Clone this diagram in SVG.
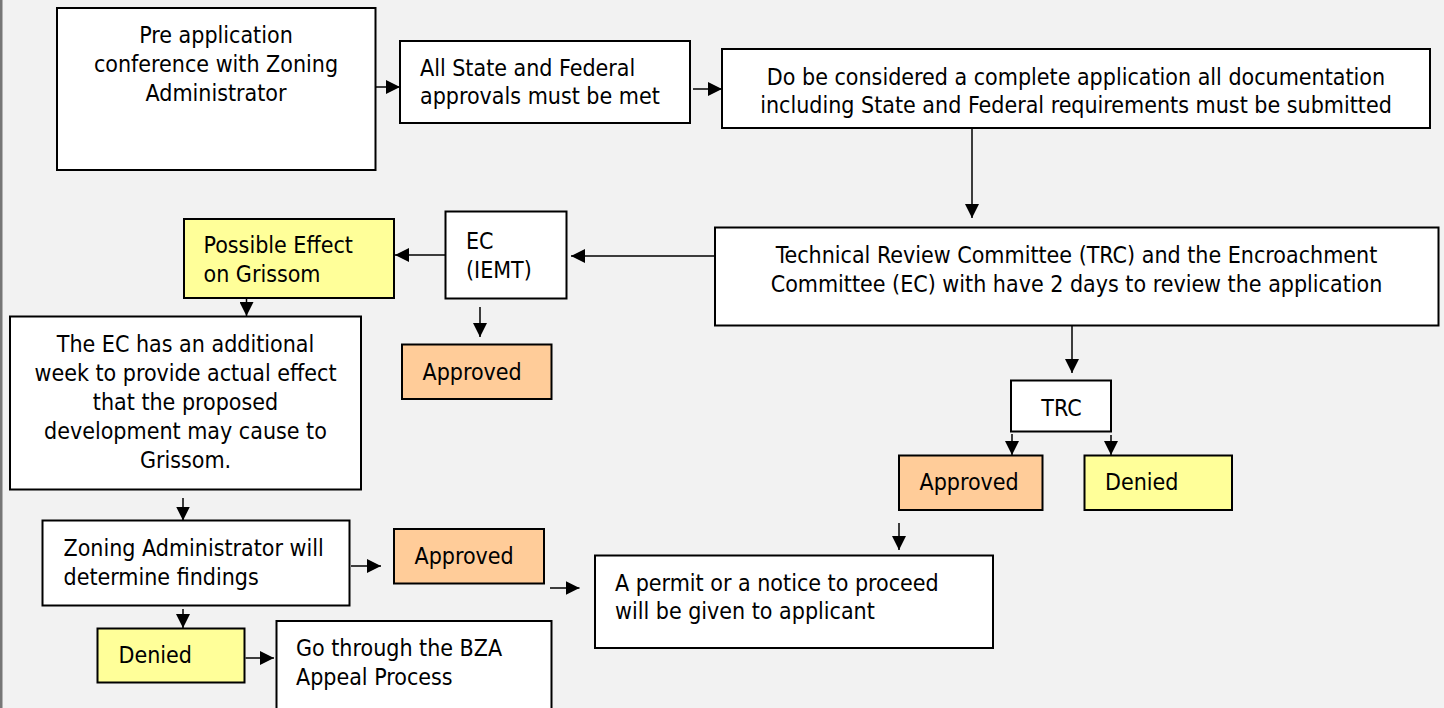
<svg xmlns="http://www.w3.org/2000/svg" width="1444" height="708" viewBox="0 0 1444 708">
<style>
.box{fill:#ffffff;stroke:#000000;stroke-width:2}
.yel{fill:#ffff99;stroke:#000000;stroke-width:2}
.org{fill:#ffcc99;stroke:#000000;stroke-width:2}
.t{font-family:"DejaVu Sans Condensed","DejaVu Sans",sans-serif;font-stretch:condensed;font-size:23px;fill:#000000}
.c{text-anchor:middle}
.ln{stroke:#000000;stroke-width:1.5;fill:none;marker-end:url(#ah)}
</style>
<defs>
<marker id="ah" markerUnits="userSpaceOnUse" markerWidth="14" markerHeight="14" refX="14" refY="7" orient="auto">
<path d="M0,0 L14,7 L0,14 z" fill="#000000"/>
</marker>
</defs>
<rect x="0" y="0" width="1444" height="708" fill="#f2f2f2"/>
<rect x="0" y="0" width="2.5" height="708" fill="#777777"/>
<g id="connectors">
<path class="ln" d="M376,87 H400"/>
<path class="ln" d="M693,89 H722"/>
<path class="ln" d="M972,128 V218"/>
<path class="ln" d="M715,256 H571"/>
<path class="ln" d="M445,255 H395"/>
<path class="ln" d="M480,307 V337"/>
<path class="ln" d="M246.5,298 V316"/>
<path class="ln" d="M183,498 V520.5"/>
<path class="ln" d="M351,566 H381"/>
<path class="ln" d="M550,588 H579.5"/>
<path class="ln" d="M183,609 V628"/>
<path class="ln" d="M245.5,658 H274"/>
<path class="ln" d="M1072,326 V373"/>
<path class="ln" d="M1012,434 V455"/>
<path class="ln" d="M1111,435 V455"/>
<path class="ln" d="M899,523 V550"/>
</g>
<g id="preapp">
<rect class="box" x="57" y="8" width="318.5" height="162"/>
<text class="t c" x="216" y="43"><tspan x="216">Pre application</tspan><tspan x="216" dy="29">conference with Zoning</tspan><tspan x="216" dy="29">Administrator</tspan></text>
</g>
<g id="allstate">
<rect class="box" x="400" y="41" width="290" height="82"/>
<text class="t" x="420" y="76"><tspan x="420">All State and Federal</tspan><tspan x="420" dy="27.5">approvals must be met</tspan></text>
</g>
<g id="complete">
<rect class="box" x="722" y="49" width="708" height="79"/>
<text class="t c" x="1076" y="84.5"><tspan x="1076">Do be considered a complete application all documentation</tspan><tspan x="1076" dy="28">including State and Federal requirements must be submitted</tspan></text>
</g>
<g id="trcec">
<rect class="box" x="715" y="227.5" width="723.5" height="98"/>
<text class="t c" x="1076.5" y="262.5"><tspan x="1076.5">Technical Review Committee (TRC) and the Encroachment</tspan><tspan x="1076.5" dy="29">Committee (EC) with have 2 days to review the application</tspan></text>
</g>
<g id="ec">
<rect class="box" x="445.5" y="211.5" width="121" height="87"/>
<text class="t" x="466" y="249"><tspan x="466">EC</tspan><tspan x="466" dy="29">(IEMT)</tspan></text>
</g>
<g id="possible">
<rect class="yel" x="184" y="219" width="210" height="79"/>
<text class="t" x="203.5" y="253"><tspan x="203.5">Possible Effect</tspan><tspan x="203.5" dy="29">on Grissom</tspan></text>
</g>
<g id="ec-approved">
<rect class="org" x="402" y="344.5" width="149.5" height="54.5"/>
<text class="t" x="422.5" y="380">Approved</text>
</g>
<g id="ecweek">
<rect class="box" x="10" y="316.5" width="351" height="173"/>
<text class="t c" x="185.5" y="351.5"><tspan x="185.5">The EC has an additional</tspan><tspan x="185.5" dy="29">week to provide actual effect</tspan><tspan x="185.5" dy="29">that the proposed</tspan><tspan x="185.5" dy="29">development may cause to</tspan><tspan x="185.5" dy="29">Grissom.</tspan></text>
</g>
<g id="zoning">
<rect class="box" x="42.5" y="520.5" width="307" height="85"/>
<text class="t" x="63.5" y="556"><tspan x="63.5">Zoning Administrator will</tspan><tspan x="63.5" dy="28.5">determine findings</tspan></text>
</g>
<g id="za-approved">
<rect class="org" x="394" y="529" width="150" height="54.5"/>
<text class="t" x="414.5" y="564">Approved</text>
</g>
<g id="permit">
<rect class="box" x="595" y="555.5" width="398" height="92.5"/>
<text class="t" x="615" y="590.5"><tspan x="615">A permit or a notice to proceed</tspan><tspan x="615" dy="28">will be given to applicant</tspan></text>
</g>
<g id="za-denied">
<rect class="yel" x="97.5" y="628.5" width="147" height="54"/>
<text class="t" x="118.5" y="663">Denied</text>
</g>
<g id="bza">
<rect class="box" x="276.5" y="621" width="275" height="90"/>
<text class="t" x="296" y="656"><tspan x="296">Go through the BZA</tspan><tspan x="296" dy="28.5">Appeal Process</tspan></text>
</g>
<g id="trc">
<rect class="box" x="1011" y="380.5" width="100" height="51"/>
<text class="t c" x="1061.5" y="416">TRC</text>
</g>
<g id="trc-approved">
<rect class="org" x="899" y="455.5" width="143.5" height="54.5"/>
<text class="t" x="919.5" y="490">Approved</text>
</g>
<g id="trc-denied">
<rect class="yel" x="1084.5" y="455.5" width="147.5" height="54.5"/>
<text class="t" x="1105" y="490">Denied</text>
</g>
</svg>
